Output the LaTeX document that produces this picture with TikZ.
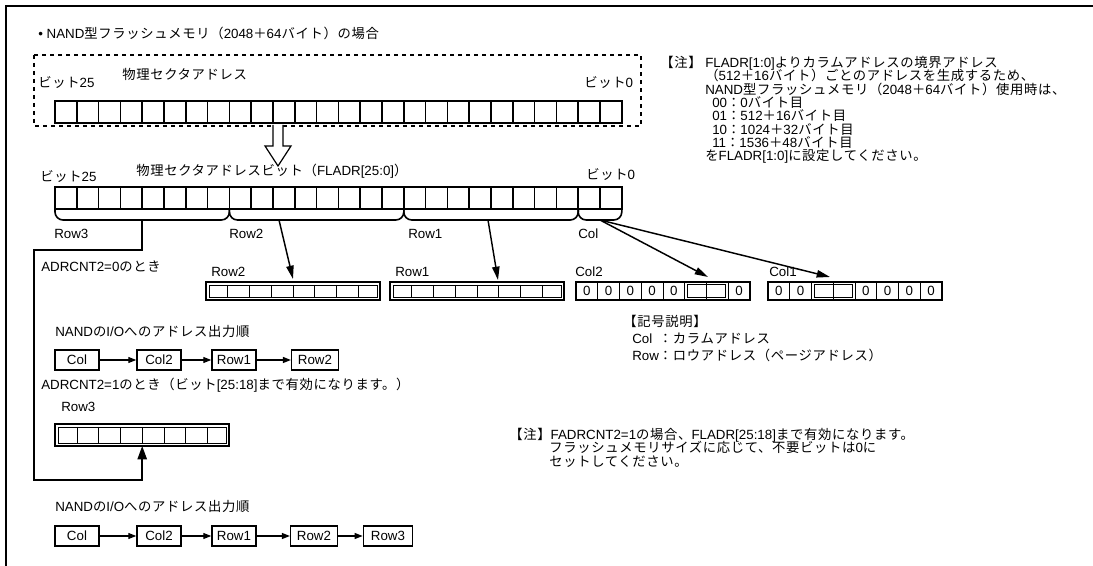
\documentclass[tikz,border=0pt]{standalone}
\usepackage{fontspec}
\setmainfont{Liberation Sans}
\newfontfamily\jpfont[LetterSpace=5]{Noto Sans CJK JP}
\newcommand\jp[1]{{\jpfont #1}}
\usetikzlibrary{arrows.meta}

\begin{document}
\begin{tikzpicture}[x=0.75pt,y=-0.75pt,
  font=\fontsize{10}{12}\selectfont,
  lbl/.style={anchor=west,inner sep=0pt,text height=7.5pt,text depth=2pt},
  heavy/.style={line width=1.2pt},
  light/.style={line width=0.45pt},
  pointer/.style={line width=1.1pt,-{Triangle[length=10pt,width=5.5pt]}},
  flow/.style={line width=0.9pt,-{Triangle[length=6pt,width=4.5pt]}},
  orderbox/.style={draw,line width=1.1pt,minimum height=15pt,minimum width=33pt,inner sep=0pt}]
\path[use as bounding box] (0,0) rectangle (1093,566);
\draw[line width=1.4pt] (6,566) -- (6,6) -- (1093,6);

% physical sector address
\node[lbl] (title) at (38,35) {• NAND\jp{型フラッシュメモリ（}2048\jp{＋}64\jp{バイト）の場合}};
\draw[dashed,line width=0.8pt] (34,55) rectangle (641,126);
\node[lbl] (top25) at (38,84) {\jp{ビット}25};
\node[lbl] (topname) at (122,76) {\jp{物理セクタアドレス}};
\node[lbl] (top0) at (584,84) {\jp{ビット}0};
\foreach \i in {0,...,25}
  \draw[heavy] ({55+21.8*\i},101) rectangle ({55+21.8*(\i+1)},123);
\draw[line width=0.9pt,fill=white] (273,125) -- (273,146) -- (265,146) -- (278,166)
  -- (291,146) -- (283,146) -- (283,125);

% FLADR[25:0]
\node[lbl] (bit25) at (40,178) {\jp{ビット}25};
\node[lbl] (barname) at (136,172) {\jp{物理セクタアドレスビット（}FLADR[25:0]\jp{）}};
\node[lbl] (bit0) at (586,176) {\jp{ビット}0};
\foreach \i in {0,...,25}
  \draw[heavy] ({55+21.8*\i},187) rectangle ({55+21.8*(\i+1)},209);
\foreach \a/\b in {0/8,8/16,16/24,24/26}
  \draw[heavy,rounded corners=6pt] ({55+21.8*\a},209) -- ({55+21.8*\a},220)
    -- ({55+21.8*\b},220) -- ({55+21.8*\b},209);
\node[lbl] (grp3) at (54,235) {Row3};
\node[lbl] (grp2) at (229,235) {Row2};
\node[lbl] (grp1) at (408,235) {Row1};
\node[lbl] (grp0) at (578,235) {Col};
\coordinate (row3out) at (142.2,220);
\coordinate (row2out) at (279,220);
\coordinate (row1out) at (488,220);
\coordinate (colout) at (600,220);

% ADRCNT2=0
\node[lbl] (mode0) at (41,268) {ADRCNT2=0\jp{のとき}};
\node[lbl] (reg2) at (211,273) {Row2};
\node[lbl] (reg1) at (395,273) {Row1};
\node[lbl] (reg0b) at (575,273) {Col2};
\node[lbl] (reg0a) at (769,273) {Col1};
\foreach \x in {206,390} {
  \draw[heavy] (\x,282) rectangle ++(174,18);
  \draw[light] (\x+3,285) rectangle ++(168,12);
  \foreach \k in {1,...,7}
    \draw[light] ({\x+21.75*\k},285) -- ++(0,12);
}
\draw[heavy] (576,282) rectangle ++(174,18);
\foreach \k in {1,...,7}
  \draw[light] ({576+21.75*\k},282) -- ++(0,18);
\foreach \k in {0,...,4,7}
  \node[inner sep=0pt] at ({576+21.75*(\k+0.5)},291) {0};
\draw[light] ({576+21.75*5+2.5},284.5) rectangle ({576+21.75*7-2.5},297.5);
\draw[heavy] (768,282) rectangle ++(174,18);
\foreach \k in {1,...,7}
  \draw[light] ({768+21.75*\k},282) -- ++(0,18);
\foreach \k in {0,1,4,5,6,7}
  \node[inner sep=0pt] at ({768+21.75*(\k+0.5)},291) {0};
\draw[light] ({768+21.75*2+2.5},284.5) rectangle ({768+21.75*4-2.5},297.5);
\coordinate (row2in) at (293,279);
\coordinate (row1in) at (498,280);
\coordinate (col2in) at (708,277);
\coordinate (col1in) at (830,277);
\draw[pointer] (row2out) -- (row2in);
\draw[pointer] (row1out) -- (row1in);
\draw[pointer] (colout) -- (col2in);
\draw[pointer] (colout) -- (col1in);

% output order, ADRCNT2=0
\node[lbl] (order0) at (55,333) {NAND\jp{の}I/O\jp{へのアドレス出力順}};
\node[orderbox] (a0col) at (77,360) {Col};
\node[orderbox] (a0col2) at (159,360) {Col2};
\node[orderbox] (a0row1) at (234,360) {Row1};
\node[orderbox,minimum width=35pt] (a0row2) at (315,360) {Row2};
\draw[flow] (a0col) -- (a0col2);
\draw[flow] (a0col2) -- (a0row1);
\draw[flow] (a0row1) -- (a0row2);

% ADRCNT2=1
\node[lbl] (mode1) at (41,386) {ADRCNT2=1\jp{のとき（ビット}[25:18]\jp{まで有効になります。）}};
\node[lbl] (reg3) at (61,408) {Row3};
\draw[heavy] (55.2,424) rectangle ++(174,22);
\draw[light] (58.2,427) rectangle ++(168,16);
\foreach \k in {1,...,7}
  \draw[light] ({55.2+21.75*\k},427) -- ++(0,16);
\coordinate (row3in) at (142.2,446);
\draw[heavy,-{Triangle[length=10pt,width=7pt]}] (row3out) -- (142.2,250) -| (34,480) -| (row3in);

% output order, ADRCNT2=1
\node[lbl] (order1) at (55,508) {NAND\jp{の}I/O\jp{へのアドレス出力順}};
\node[orderbox] (a1col) at (77,536) {Col};
\node[orderbox] (a1col2) at (159,536) {Col2};
\node[orderbox] (a1row1) at (234,536) {Row1};
\node[orderbox,minimum width=35pt] (a1row2) at (314,536) {Row2};
\node[orderbox,minimum width=37pt] (a1row3) at (388,536) {Row3};
\draw[flow] (a1col) -- (a1col2);
\draw[flow] (a1col2) -- (a1row1);
\draw[flow] (a1row1) -- (a1row2);
\draw[flow] (a1row2) -- (a1row3);

% notes
\node[lbl] (note1mark) at (660,64) {\jp{【注】}};
\node[lbl] (note1a) at (705,64) {FLADR[1:0]\jp{よりカラムアドレスの境界アドレス}};
\node[lbl] (note1b) at (705,77.3) {\jp{（}512\jp{＋}16\jp{バイト）ごとのアドレスを生成するため、}};
\node[lbl] (note1c) at (705,90.6) {NAND\jp{型フラッシュメモリ（}2048\jp{＋}64\jp{バイト）使用時は、}};
\node[lbl] (note1d) at (712,103.9) {00\jp{：}0\jp{バイト目}};
\node[lbl] (note1e) at (712,117.2) {01\jp{：}512\jp{＋}16\jp{バイト目}};
\node[lbl] (note1f) at (712,130.5) {10\jp{：}1024\jp{＋}32\jp{バイト目}};
\node[lbl] (note1g) at (712,143.8) {11\jp{：}1536\jp{＋}48\jp{バイト目}};
\node[lbl] (note1h) at (705,157.1) {\jp{を}FLADR[1:0]\jp{に設定してください。}};

\node[lbl] (legend) at (623,323) {\jp{【記号説明】}};
\node[lbl] (legendcol) at (632,340) {\makebox[20pt][l]{Col}\jp{：カラムアドレス}};
\node[lbl] (legendrow) at (632,357) {\makebox[20pt][l]{Row}\jp{：ロウアドレス（ページアドレス）}};

\node[lbl] (note2a) at (509,436) {\jp{【注】}FADRCNT2=1\jp{の場合、}FLADR[25:18]\jp{まで有効になります。}};
\node[lbl] (note2b) at (549,449.3) {\jp{フラッシュメモリサイズに応じて、不要ビットは}0\jp{に}};
\node[lbl] (note2c) at (549,462.6) {\jp{セットしてください。}};
\end{tikzpicture}
\end{document}
